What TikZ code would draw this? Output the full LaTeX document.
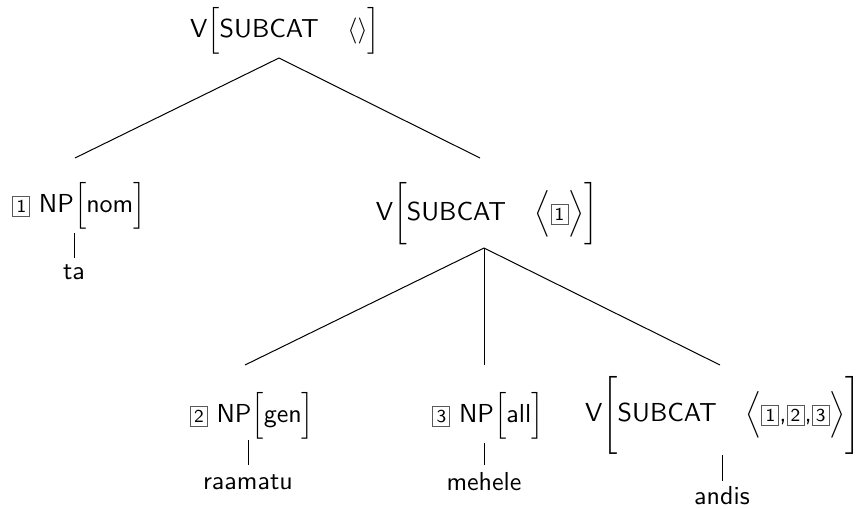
\documentclass[tikz,border=0pt]{standalone}
\usepackage{fontspec}
\usepackage{graphicx}
\usepackage{xcolor}
\newcommand\bxn[1]{{\fboxsep=1.2pt\fboxrule=0.4pt\fcolorbox{black!65}{white}{\scriptsize #1}}}
\newcommand\lbl[1]{\scalebox{1.3}{\sffamily #1}}
\begin{document}
\begin{tikzpicture}[x=0.5pt,y=-0.5pt,
  lbl/.style={inner sep=0pt},
  edge/.style={line width=0.5pt}]
\useasboundingbox (0,0) rectangle (863,509);
% nodes
\node[lbl] (root) at (285,31) {\lbl{V$\Big[\mbox{SUBCAT}\hspace{11pt}\langle\rangle\Big]$}};
\node[lbl] (np1) at (79,206) {\lbl{\bxn{1} NP$\Big[\mbox{nom}\Big]$}};
\node[lbl] (ta) at (74,272) {\lbl{ta}};
\node[lbl] (vp) at (487,214) {\lbl{V$\bigg[\mbox{SUBCAT}\hspace{11pt}\Big\langle\bxn{1}\Big\rangle\bigg]$}};
\node[lbl] (np2) at (252,416) {\lbl{\bxn{2} NP$\Big[\mbox{gen}\Big]$}};
\node[lbl] (raamatu) at (248,482) {\lbl{raamatu}};
\node[lbl] (np3) at (488,416) {\lbl{\bxn{3} NP$\Big[\mbox{all}\Big]$}};
\node[lbl] (mehele) at (484,482) {\lbl{mehele}};
\node[lbl] (v) at (723,415) {\lbl{V$\Bigg[\mbox{SUBCAT}\hspace{11pt}\Big\langle\bxn{1}\mbox{,}\bxn{2}\mbox{,}\bxn{3}\Big\rangle\Bigg]$}};
\node[lbl] (andis) at (722,496) {\lbl{andis}};
% edge end points
\coordinate (rootap) at (279,58);
\coordinate (np1top) at (75,158);
\coordinate (vptop) at (480,158);
\coordinate (vpap) at (484,248);
\coordinate (np2top) at (245,365);
\coordinate (np3top) at (484,365);
\coordinate (vtop) at (720,365);
\coordinate (np1bot) at (74,233);
\coordinate (tatop) at (74,258);
\coordinate (np2bot) at (248,440);
\coordinate (raatop) at (248,465);
\coordinate (np3bot) at (484,443);
\coordinate (mehtop) at (484,465);
\coordinate (vbot) at (722,455);
\coordinate (andtop) at (722,481);
% edges
\draw[edge] (rootap) -- (np1top);
\draw[edge] (rootap) -- (vptop);
\draw[edge] (vpap) -- (np2top);
\draw[edge] (vpap) -- (np3top);
\draw[edge] (vpap) -- (vtop);
\draw[edge] (np1bot) -- (tatop);
\draw[edge] (np2bot) -- (raatop);
\draw[edge] (np3bot) -- (mehtop);
\draw[edge] (vbot) -- (andtop);
\end{tikzpicture}
\end{document}
